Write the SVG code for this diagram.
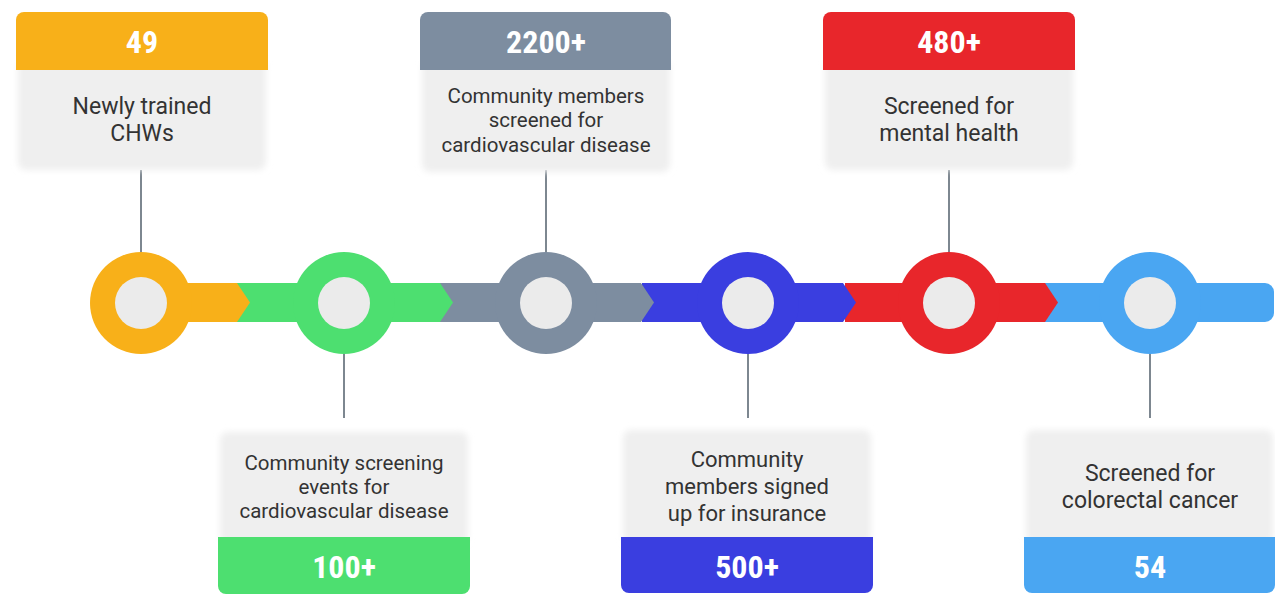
<svg xmlns="http://www.w3.org/2000/svg" width="1275" height="594" viewBox="0 0 1275 594">
<defs>
<filter id="soft" x="-10%" y="-10%" width="120%" height="120%"><feGaussianBlur stdDeviation="3"/></filter>
<style>
.body{fill:#efefef;filter:url(#soft)}
.num{font-family:"Liberation Sans Narrow","Roboto Condensed","Roboto",sans-serif;font-weight:bold;font-size:32px;fill:#ffffff;text-anchor:middle}
.lbl{font-family:"Roboto","Liberation Sans",sans-serif;font-size:20.5px;fill:#333333;text-anchor:middle}
.big{font-size:23px}
.mid{font-size:22px}
.lnk{stroke:#7d8790;stroke-width:2;fill:none}
.inner{fill:#ebebeb}
</style>
</defs>
<rect width="1275" height="594" fill="#ffffff"/>
<g id="connectors">
<line class="lnk" x1="141" y1="170" x2="141" y2="252"/>
<line class="lnk" x1="546" y1="170" x2="546" y2="252"/>
<line class="lnk" x1="949" y1="170" x2="949" y2="252"/>
<line class="lnk" x1="344" y1="354" x2="344" y2="418"/>
<line class="lnk" x1="748" y1="354" x2="748" y2="418"/>
<line class="lnk" x1="1150" y1="354" x2="1150" y2="418"/>
</g>
<g id="timeline">
<path d="M1045 283 H1265 A9 9 0 0 1 1274 292 V313 A9 9 0 0 1 1265 322 H1045 Z" fill="#4aa6f2"/>
<path d="M845 283 H1045 L1058 302.5 L1045 322 H845 Z" fill="#e8262b"/>
<path d="M642 283 H843 L856 302.5 L843 322 H642 Z" fill="#3a3ee0"/>
<path d="M440 283 H641 L654 302.5 L641 322 H440 Z" fill="#7d8da0"/>
<path d="M237 283 H440 L453 302.5 L440 322 H237 Z" fill="#4ddf70"/>
<path d="M141 283 H237 L250 302.5 L237 322 H141 Z" fill="#f8b019"/>
</g>
<g id="n1">
<rect class="body" x="18" y="60" width="248" height="110" rx="8"/>
<path d="M16 70 V20 A8 8 0 0 1 24 12 H260 A8 8 0 0 1 268 20 V70 Z" fill="#f8b019"/>
<text class="num" x="142" y="53">49</text>
<text class="lbl big" x="142" y="114">Newly trained</text>
<text class="lbl big" x="142" y="141">CHWs</text>
<circle cx="141" cy="303" r="51" fill="#f8b019"/>
<circle class="inner" cx="141" cy="303" r="26"/>
</g>
<g id="n2">
<rect class="body" x="220" y="432" width="248" height="112" rx="8"/>
<path d="M218 537 V586 A8 8 0 0 0 226 594 H462 A8 8 0 0 0 470 586 V537 Z" fill="#4ddf70"/>
<text class="num" x="344" y="578">100+</text>
<text class="lbl" x="344" y="470">Community screening</text>
<text class="lbl" x="344" y="494">events for</text>
<text class="lbl" x="344" y="518">cardiovascular disease</text>
<circle cx="344" cy="303" r="51" fill="#4ddf70"/>
<circle class="inner" cx="344" cy="303" r="26"/>
</g>
<g id="n3">
<rect class="body" x="422" y="60" width="248" height="112" rx="8"/>
<path d="M420 70 V20 A8 8 0 0 1 428 12 H663 A8 8 0 0 1 671 20 V70 Z" fill="#7d8da0"/>
<text class="num" x="546" y="53">2200+</text>
<text class="lbl" x="546" y="103">Community members</text>
<text class="lbl" x="546" y="127">screened for</text>
<text class="lbl" x="546" y="152">cardiovascular disease</text>
<circle cx="546" cy="303" r="51" fill="#7d8da0"/>
<circle class="inner" cx="546" cy="303" r="26"/>
</g>
<g id="n4">
<rect class="body" x="623" y="430" width="248" height="114" rx="8"/>
<path d="M621 537 V585 A8 8 0 0 0 629 593 H865 A8 8 0 0 0 873 585 V537 Z" fill="#3a3ee0"/>
<text class="num" x="747" y="578">500+</text>
<text class="lbl mid" x="747" y="467">Community</text>
<text class="lbl mid" x="747" y="494">members signed</text>
<text class="lbl mid" x="747" y="521">up for insurance</text>
<circle cx="748" cy="303" r="51" fill="#3a3ee0"/>
<circle class="inner" cx="748" cy="303" r="26"/>
</g>
<g id="n5">
<rect class="body" x="825" y="60" width="248" height="110" rx="8"/>
<path d="M823 70 V20 A8 8 0 0 1 831 12 H1067 A8 8 0 0 1 1075 20 V70 Z" fill="#e8262b"/>
<text class="num" x="949" y="53">480+</text>
<text class="lbl big" x="949" y="114">Screened for</text>
<text class="lbl big" x="949" y="141">mental health</text>
<circle cx="949" cy="303" r="51" fill="#e8262b"/>
<circle class="inner" cx="949" cy="303" r="26"/>
</g>
<g id="n6">
<rect class="body" x="1026" y="430" width="247" height="114" rx="8"/>
<path d="M1024 537 V585 A8 8 0 0 0 1032 593 H1267 A8 8 0 0 0 1275 585 V537 Z" fill="#4aa6f2"/>
<text class="num" x="1150" y="578">54</text>
<text class="lbl big" x="1150" y="481">Screened for</text>
<text class="lbl big" x="1150" y="508">colorectal cancer</text>
<circle cx="1150" cy="303" r="51" fill="#4aa6f2"/>
<circle class="inner" cx="1150" cy="303" r="26"/>
</g>
</svg>
